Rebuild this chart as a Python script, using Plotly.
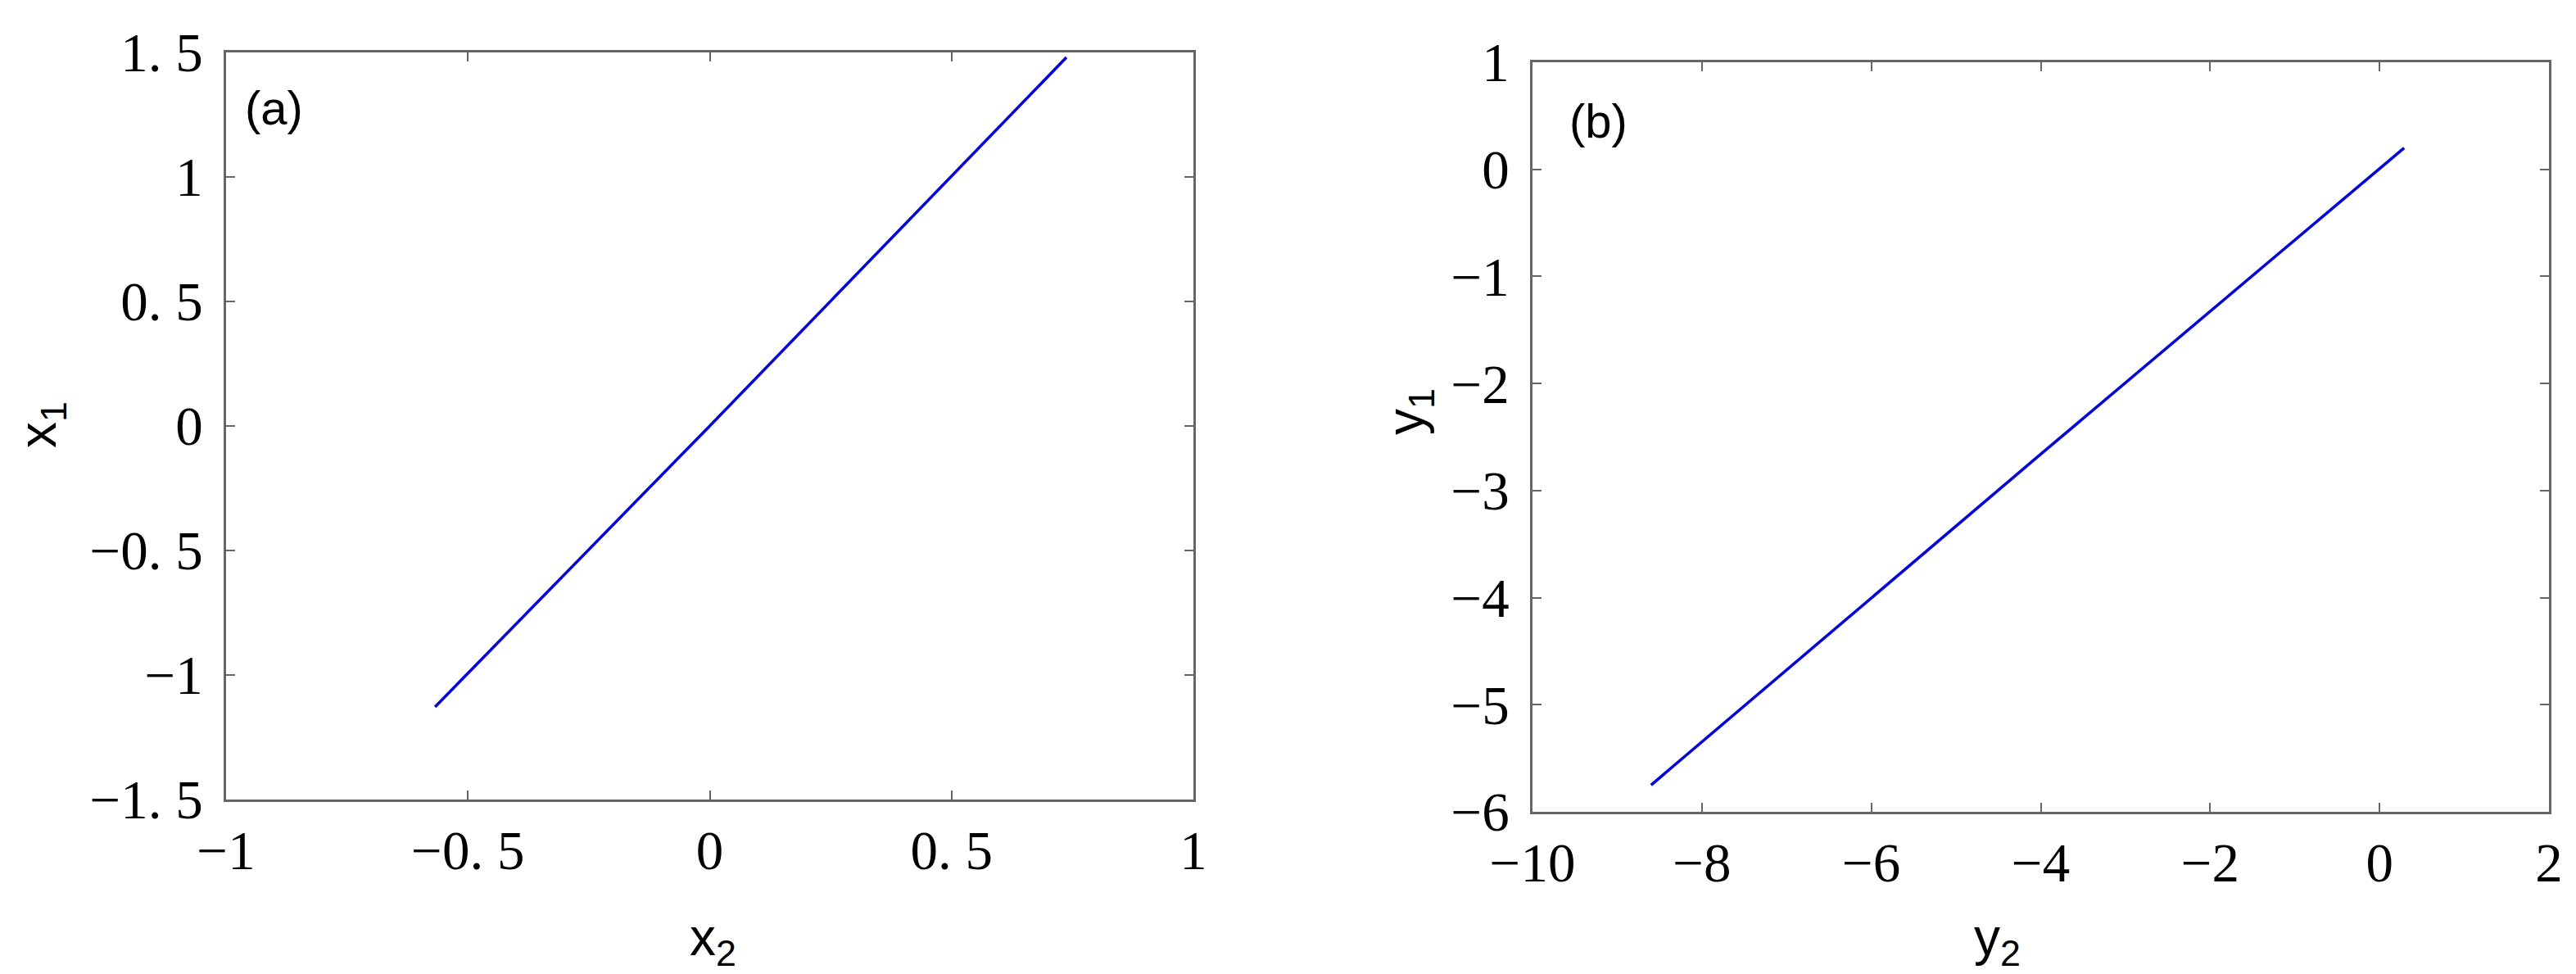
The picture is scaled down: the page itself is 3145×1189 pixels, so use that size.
import plotly.graph_objects as go

# ---- data ----
x2_vals = [-0.568, 0.0, 0.7375]
x1_vals = [-1.128, 0.0, 1.48]
y2_vals = [-8.60, -4.0, 0.29]
y1_vals = [-5.75, -2.66, 0.20]

a_xticks = [-1, -0.5, 0, 0.5, 1]
a_xtext = ["−1", "−0. 5", "0", "0. 5", "1"]
a_yticks = [-1.5, -1, -0.5, 0, 0.5, 1, 1.5]
a_ytext = ["−1. 5", "−1", "−0. 5", "0", "0. 5", "1", "1. 5"]
b_xticks = [-10, -8, -6, -4, -2, 0, 2]
b_xtext = ["−10", "−8", "−6", "−4", "−2", "0", "2"]
b_yticks = [-6, -5, -4, -3, -2, -1, 0, 1]
b_ytext = ["−6", "−5", "−4", "−3", "−2", "−1", "0", "1"]

W, H = 3145, 1189


def px_x(p):
    return p / W


def px_y(p):
    return 1 - p / H


fig = go.Figure()
fig.add_trace(go.Scatter(x=x2_vals, y=x1_vals, mode="lines",
                         line=dict(color="#0000ff", width=3.5),
                         xaxis="x", yaxis="y", showlegend=False))
fig.add_trace(go.Scatter(x=y2_vals, y=y1_vals, mode="lines",
                         line=dict(color="#0000ff", width=3.5),
                         xaxis="x2", yaxis="y2", showlegend=False))

tickfont = dict(family="Liberation Serif", size=67, color="black")
common = dict(showline=True, mirror="ticks", linecolor="#666666", linewidth=2.5,
              ticks="inside", ticklen=11, tickcolor="#666666", tickwidth=2,
              showgrid=False, zeroline=False, tickfont=tickfont, fixedrange=True,
              automargin=False)

fig.update_layout(
    width=W, height=H, autosize=False,
    margin=dict(l=0, r=0, t=0, b=0, autoexpand=False),
    paper_bgcolor="white", plot_bgcolor="white",
    xaxis=dict(domain=[px_x(268), px_x(1449)], range=[-1, 1],
               tickvals=a_xticks, ticktext=a_xtext, anchor="y",
               ticklabelstandoff=2, **common),
    yaxis=dict(domain=[px_y(968), px_y(56)], range=[-1.5, 1.5],
               tickvals=a_yticks, ticktext=a_ytext, anchor="x",
               ticklabelstandoff=12, **common),
    xaxis2=dict(domain=[px_x(1863), px_x(3104)], range=[-10, 2],
                tickvals=b_xticks, ticktext=b_xtext, anchor="y2",
                ticklabelstandoff=2, **common),
    yaxis2=dict(domain=[px_y(983), px_y(68)], range=[-6, 1],
                tickvals=b_yticks, ticktext=b_ytext, anchor="x2",
                ticklabelstandoff=12, **common),
)

labfont = dict(family="Liberation Sans", size=64, color="black")
panfont = dict(family="Liberation Sans", size=58, color="black")
ann = [
    dict(text="(a)", x=px_x(326), y=px_y(124), font=panfont),
    dict(text="(b)", x=px_x(1944), y=px_y(140), font=panfont),
    dict(text="x<sub>2</sub>", x=px_x(862), y=px_y(1140), font=labfont),
    dict(text="x<sub>1</sub>", x=px_x(42), y=px_y(511), font=labfont, textangle=-90),
    dict(text="y<sub>1</sub>", x=px_x(1712), y=px_y(495), font=labfont, textangle=-90),
    dict(text="y<sub>2</sub>", x=px_x(2430), y=px_y(1140), font=labfont),
]
for a in ann:
    a.update(xref="paper", yref="paper", showarrow=False, xanchor="center", yanchor="middle")
    fig.add_annotation(**a)

fig.write_html("out.html")
